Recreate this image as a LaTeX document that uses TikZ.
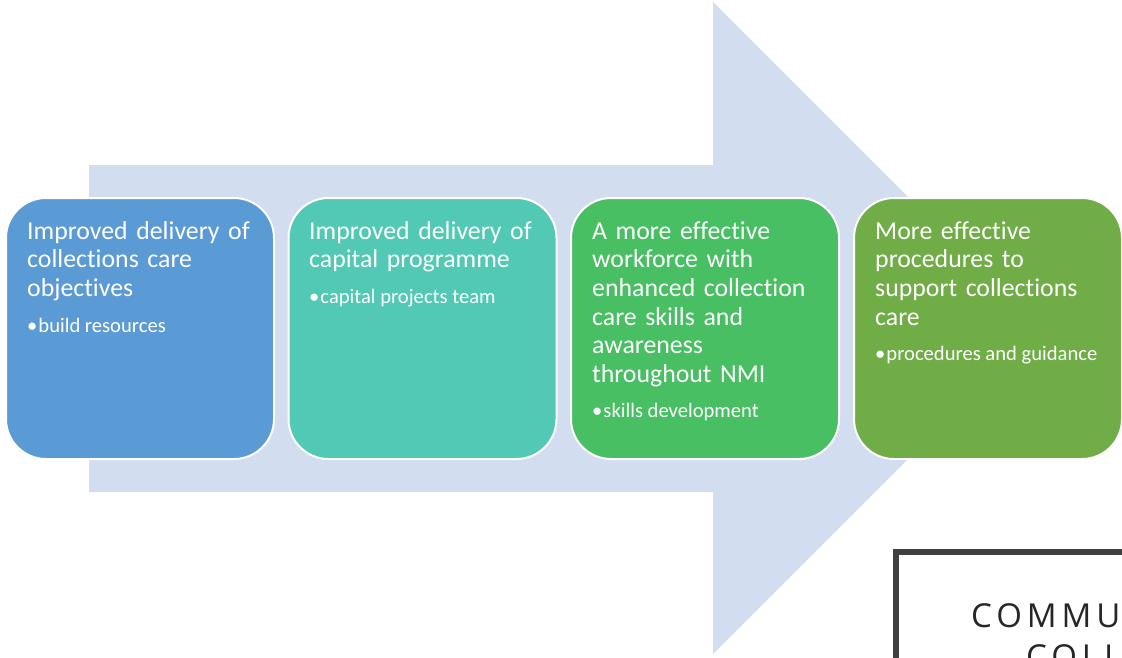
\documentclass[tikz,border=0pt]{standalone}
\usepackage{fontspec}
\setmainfont{Carlito}[Ligatures={NoCommon}, Contextuals={NoAlternate}]
\newfontfamily\capsfont[LetterSpace=15]{Open Sans}
\definecolor{arrowfill}{HTML}{D2DEEF}
\definecolor{cA}{HTML}{5B9BD5}
\definecolor{cB}{HTML}{52C9B4}
\definecolor{cC}{HTML}{47BF62}
\definecolor{cD}{HTML}{70AD47}
\definecolor{frameC}{HTML}{404040}
\definecolor{capsC}{HTML}{262626}
\tikzset{
  stagebox/.style={draw=white, line width=2pt, rounded corners=40pt,
    minimum width=268pt, minimum height=261pt, inner sep=0pt},
  titletxt/.style={anchor=base west, inner sep=0pt, text=white, text width=250pt,
    align=left, font=\fontsize{25.8}{28.7}\selectfont},
  bullettxt/.style={anchor=base west, inner sep=0pt, text=white,
    font=\fontsize{20.6}{24}\selectfont},
  capstxt/.style={anchor=base west, inner sep=0pt, text=capsC,
    font=\capsfont\fontsize{33}{41}\selectfont}
}
\newcommand{\bul}{\raisebox{0pt}{•}\kern1pt}
\begin{document}
\begin{tikzpicture}[x=1pt,y=-1pt]
\useasboundingbox (0,0) rectangle (1122,657);
\clip (0,0) rectangle (1122,657);
\fill[white] (0,0) rectangle (1122,657);
% big arrow
\fill[arrowfill] (89,165) -- (713,165) -- (713,2) -- (1039,328) -- (713,654)
  -- (713,492) -- (89,492) -- cycle;
% stage boxes
\node[stagebox, fill=cA] (b1) at (140,328.5) {};
\node[stagebox, fill=cB] (b2) at (422.5,328.5) {};
\node[stagebox, fill=cC] (b3) at (705,328.5) {};
\node[stagebox, fill=cD] (b4) at (988,328.5) {};
% texts
\node[titletxt] (t1) at (27,239) {Improved delivery of\\collections care\\objectives};
\node[bullettxt] (u1) at (27,332) {\bul build resources};
\node[titletxt] (t2) at (309,239) {Improved delivery of\\capital programme};
\node[bullettxt] (u2) at (309,303) {\bul capital projects team};
\node[titletxt] (t3) at (592,239) {A more effective\\workforce with\\enhanced collection\\care skills and\\awareness\\throughout NMI};
\node[bullettxt] (u3) at (592,417) {\bul skills development};
\node[titletxt] (t4) at (875,239) {More effective\\procedures to\\support collections\\care};
\node[bullettxt] (u4) at (875,360) {\bul procedures and guidance};
% bottom right frame
\draw[frameC, line width=6pt] (896,552) rectangle (1200,760);
\node[capstxt] (k1) at (971,627) {COMMU};
\node[capstxt] (k2) at (1026,668) {COLL};
\end{tikzpicture}
\end{document}
